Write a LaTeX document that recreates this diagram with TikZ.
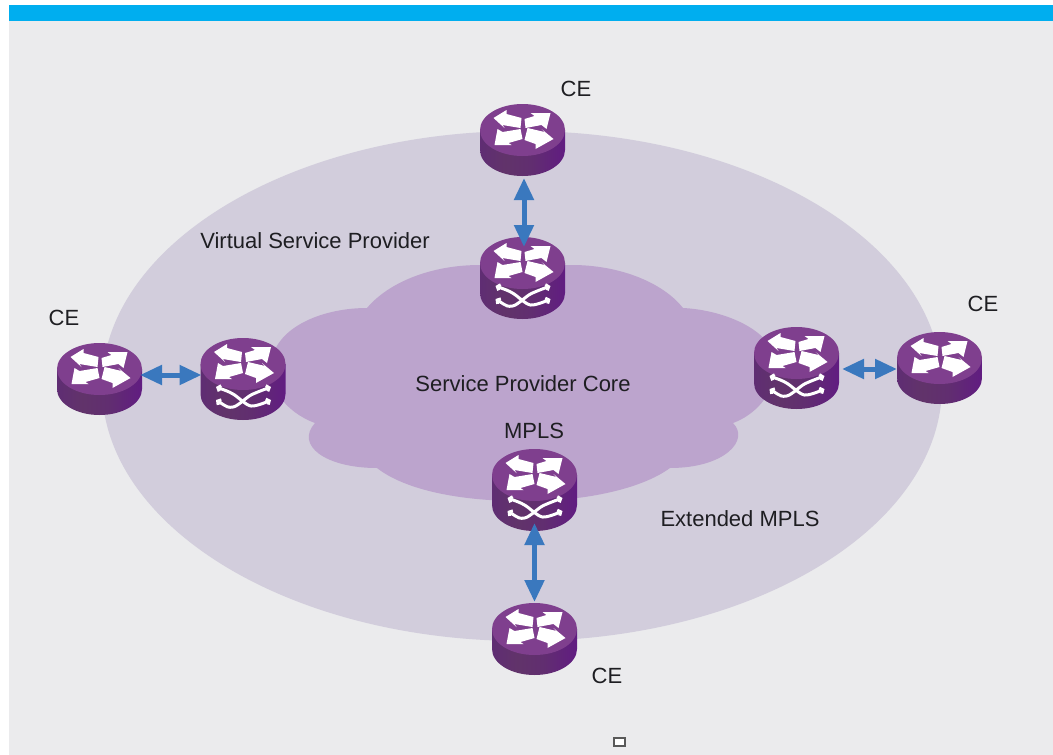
\documentclass[tikz,border=0pt]{standalone}
\usepackage{fontspec}
\setmainfont{Liberation Sans}
\usetikzlibrary{arrows.meta}
\definecolor{pagegrey}{HTML}{EBEBED}
\definecolor{bandblue}{HTML}{00AEEF}
\definecolor{vspfill}{HTML}{D2CDDC}
\definecolor{corefill}{HTML}{BCA4CD}
\definecolor{rtop}{HTML}{7F3F8E}
\definecolor{linkblue}{HTML}{3A78BE}
\definecolor{inkblack}{HTML}{1E1E22}
\pgfdeclarehorizontalshading{routerbody}{100bp}{
  color(0bp)=(rgb:red,0.38;green,0.18;blue,0.46);
  color(25bp)=(rgb:red,0.38;green,0.18;blue,0.46);
  color(40bp)=(rgb:red,0.55;green,0.29;blue,0.60);
  color(55bp)=(rgb:red,0.47;green,0.22;blue,0.54);
  color(75bp)=(rgb:red,0.24;green,0.07;blue,0.32);
  color(100bp)=(rgb:red,0.24;green,0.07;blue,0.32)}
\tikzset{
  label text/.style={font=\fontsize{22}{26}\selectfont, text=inkblack, inner sep=0pt},
  routerbox/.style={minimum width=85pt, inner sep=0pt, outer sep=0pt},
  link/.style={draw=linkblue, line width=5pt, {Triangle[length=22pt,width=19pt]}-{Triangle[length=22pt,width=19pt]}},
  flowarrow/.style={fill=white, draw=none},
  crossline/.style={draw=white, line width=3pt, line cap=round, {Straight Barb[length=2.5pt,width=6pt]}-{Straight Barb[length=2.5pt,width=6pt]}}
}
% #1 name, #2 cx, #3 y of top of the icon, #4 body height
\newcommand{\routerbase}[4]{%
  \begin{scope}[shift={(#2,#3+26)}]
    \shade[shading=routerbody]
      (-42.5,0) -- (-42.5,#4) arc[x radius=42.5, y radius=26, start angle=180, end angle=0]
      -- (42.5,0) -- cycle;
    \fill[rtop] (0,0) ellipse[x radius=42.5, y radius=26];
    \fill[flowarrow] (-29,-12) -- (-16,-20) -- (-16,-16) -- (-1,-12) -- (-2,-2) -- (-20,-5) -- (-18,-2) -- cycle;
    \fill[flowarrow] (28,-17) -- (8,-17) -- (12,-14) -- (2,-11) -- (3,-2) -- (19,-5) -- (24,-1) -- cycle;
    \fill[flowarrow] (-28,15) -- (-25,-1) -- (-20,2) -- (-2,-1) -- (0,9) -- (-14,13) -- (-11,15) -- cycle;
    \fill[flowarrow] (31,9) -- (13,19) -- (13,14) -- (2,10) -- (5,-2) -- (22,2) -- (19,-1) -- cycle;
  \end{scope}%
  \node[routerbox, minimum height=#4pt+52pt] (#1) at (#2,#3+26+#4/2) {};%
}
\newcommand{\crossmark}[2]{%
  \begin{scope}[shift={(#1,#2+26)}]
    \draw[crossline] plot[smooth] coordinates {(-27,23) (-10,30) (8,42) (28,36)};
    \draw[crossline] plot[smooth] coordinates {(-27,36) (-10,43) (8,31) (28,23)};
  \end{scope}%
}
\begin{document}
\begin{tikzpicture}[x=1pt,y=-1pt]
\useasboundingbox (0,0) rectangle (1053,755);
\fill[white] (0,0) rectangle (1053,755);
\fill[pagegrey] (9,5) rectangle (1053,755);
\fill[bandblue] (9,5) rectangle (1053,21);
% Virtual Service Provider region
\fill[vspfill] (522,386) ellipse[x radius=420, y radius=255];
% Service Provider Core cloud
\fill[corefill]
  (367,308)
  .. controls (388,283) and (430,265) .. (480,265)
  -- (575,265)
  .. controls (625,266) and (665,285) .. (683,308)
  .. controls (725,310) and (780,332) .. (776,370)
  .. controls (773,395) and (755,415) .. (733,423)
  .. controls (750,440) and (725,468) .. (670,468)
  .. controls (640,490) and (580,502) .. (520,501)
  .. controls (460,501) and (405,490) .. (377,468)
  .. controls (325,468) and (295,445) .. (315,423)
  .. controls (285,412) and (265,385) .. (272,358)
  .. controls (280,325) and (325,308) .. (367,308)
  -- cycle;
% Routers
\routerbase{ceT}{522.5}{104}{20}
\routerbase{peT}{522.5}{237}{30}
\crossmark{522.5}{237}
\routerbase{ceL}{99.5}{343}{20}
\routerbase{peL}{243}{338}{30}
\crossmark{243}{338}
\routerbase{peR}{796.5}{327}{30}
\crossmark{796.5}{327}
\routerbase{ceR}{939.5}{332}{20}
\routerbase{peB}{534.5}{449}{30}
\crossmark{534.5}{449}
\routerbase{ceB}{534.5}{603}{20}
% Links
\draw[link, shorten <=2pt, shorten >=-10pt] ([xshift=1.5pt]ceT.south) -- ([xshift=1.5pt]peT.north);
\draw[link, shorten <=-2pt, shorten >=-1pt] (ceL.east |- 0,375) -- (peL.west |- 0,375);
\draw[link, shorten <=3pt, shorten >=0pt] (peR.east |- 0,369) -- (ceR.west |- 0,369);
\draw[link, shorten <=-8pt, shorten >=1pt] (peB.south) -- (ceB.north);
% Labels
\node[label text] (l1) at (576,89) {CE};
\node[label text] (l2) at (315,241) {Virtual Service Provider};
\node[label text] (l3) at (64,318) {CE};
\node[label text] (l4) at (983,304) {CE};
\node[label text] (l5) at (523,384) {Service Provider Core};
\node[label text] (l6) at (534,431) {MPLS};
\node[label text] (l7) at (740,519) {Extended MPLS};
\node[label text] (l8) at (607,676) {CE};
% small stray box
\draw[draw=black!65, fill=white, line width=1.5pt] (614,738) rectangle (625,746);
\end{tikzpicture}
\end{document}
